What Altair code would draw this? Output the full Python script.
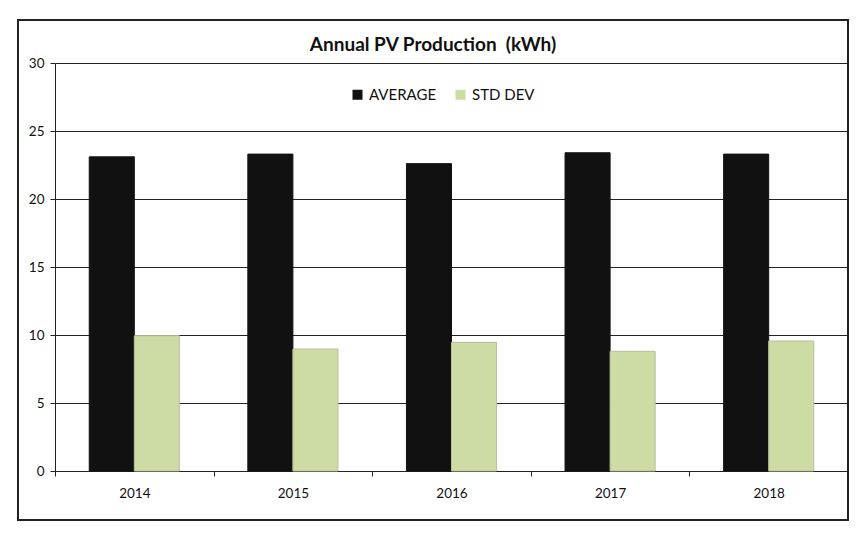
import altair as alt
import pandas as pd

years = ["2014", "2015", "2016", "2017", "2018"]
average = [23.1, 23.3, 22.6, 23.4, 23.3]
std_dev = [9.95, 8.97, 9.46, 8.80, 9.56]
series_names = ["AVERAGE", "STD DEV"]
colors = ["#111111", "#cddba5"]
strokes = ["#111111", "#b9bf9c"]
title_text = "Annual PV Production\u00a0 (kWh)"

rows = []
for i, y in enumerate(years):
    rows.append({"year": y, "series": series_names[0], "value": average[i]})
    rows.append({"year": y, "series": series_names[1], "value": std_dev[i]})
df = pd.DataFrame(rows)

FONT = "Lato"

bars = alt.Chart(df).mark_bar(strokeWidth=1).encode(
    x=alt.X("year:N", title=None, sort=years,
            scale=alt.Scale(paddingInner=0, paddingOuter=0),
            axis=alt.Axis(labelAngle=0, tickBand="extent", tickSize=5,
                          tickColor="#222", domainColor="#222",
                          labelFontSize=13.5, labelColor="#111", labelPadding=10,
                          labelFont=FONT, grid=False)),
    xOffset=alt.XOffset("series:N", sort=series_names,
                        scale=alt.Scale(paddingInner=0, paddingOuter=0.76)),
    y=alt.Y("value:Q", title=None,
            scale=alt.Scale(domain=[0, 30]),
            axis=alt.Axis(values=[0, 5, 10, 15, 20, 25, 30], tickSize=5,
                          tickColor="#222", domainColor="#222",
                          gridColor="#222", gridOpacity=1, gridWidth=1,
                          labelFontSize=13.5, labelColor="#111", labelPadding=6,
                          labelFont=FONT)),
    color=alt.Color("series:N", sort=series_names,
                    scale=alt.Scale(domain=series_names, range=colors),
                    legend=alt.Legend(title=None, orient="none", direction="horizontal",
                                      legendX=295, legendY=24,
                                      symbolType="square", symbolSize=100,
                                      symbolStrokeWidth=0, symbolOpacity=1,
                                      labelFontSize=15, labelFont=FONT,
                                      labelColor="#111", labelOffset=4,
                                      columnPadding=16)),
    stroke=alt.Stroke("series:N", sort=series_names,
                      scale=alt.Scale(domain=series_names, range=strokes),
                      legend=None),
)

frame = alt.Chart(df).mark_rect(fill=None, stroke="#222", strokeWidth=1.2, clip=False).encode(
    x=alt.value(-37), x2=alt.value(793), y=alt.value(-43), y2=alt.value(457)
)

title = alt.Chart(pd.DataFrame({"t": [title_text]})).mark_text(
    font=FONT, fontSize=19, fontWeight="bold", color="#111",
    align="center", baseline="middle", clip=False
).encode(x=alt.value(378), y=alt.value(-18), text="t:N")

chart = alt.layer(frame, bars, title).properties(
    width=793, height=408,
    padding={"left": 47, "top": 55, "right": 10, "bottom": 60},
    autosize=alt.AutoSizeParams(type="none"),
).configure_view(stroke=None).configure(background="white")

chart.save("out.html", embed_options={"renderer": "svg", "actions": False})
